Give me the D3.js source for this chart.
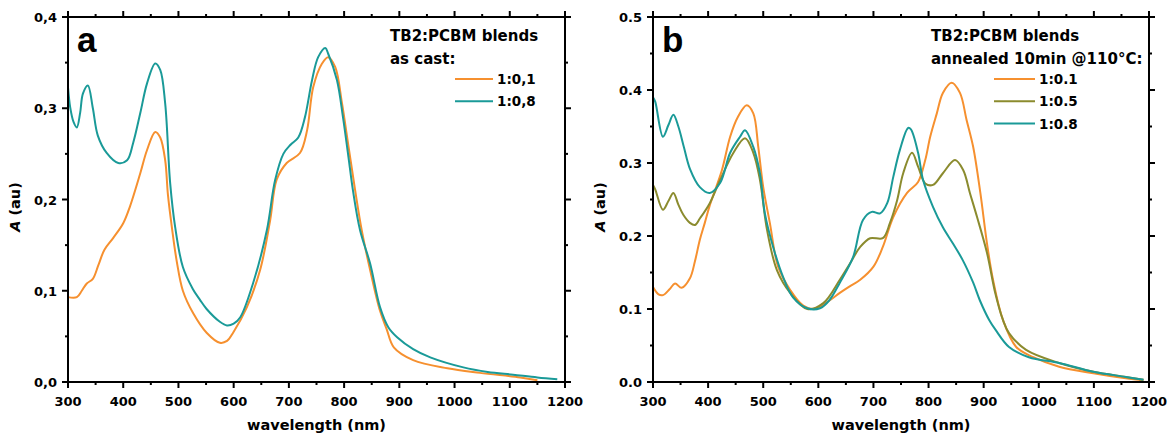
<!DOCTYPE html>
<html><head><meta charset="utf-8">
<script src="https://cdn.jsdelivr.net/npm/d3@7"></script>
<style>
html,body{margin:0;padding:0;background:#fff;}
svg{display:block;}
text{font-family:"DejaVu Sans",sans-serif;font-weight:bold;fill:#000;}
</style></head>
<body><svg id="chart" width="1176" height="439"></svg>
<script>
// ---------- DATA ----------
// wavelength (nm), absorbance (au)
const aCast_1to01 = [[300,0.093],[316,0.093],[325,0.1],[334,0.108],[345,0.113],[355,0.128],[366,0.145],[382,0.158],[400,0.174],[412,0.192],[431,0.229],[443,0.254],[458,0.274],[467,0.268],[476,0.243],[481,0.205],[488,0.17],[497,0.132],[508,0.1],[527,0.075],[551,0.054],[575,0.043],[588,0.045],[599,0.054],[624,0.082],[648,0.123],[666,0.177],[678,0.222],[696,0.24],[720,0.251],[733,0.276],[744,0.323],[760,0.349],[771,0.356],[784,0.345],[796,0.306],[808,0.258],[820,0.21],[832,0.166],[847,0.123],[865,0.078],[877,0.058],[890,0.038],[925,0.024],[987,0.015],[1046,0.01],[1119,0.005],[1150,0.002]];
const aCast_1to08 = [[300,0.323],[304,0.301],[310,0.285],[316,0.279],[322,0.295],[327,0.316],[336,0.325],[345,0.3],[354,0.27],[370,0.251],[391,0.24],[407,0.243],[418,0.262],[431,0.295],[443,0.327],[458,0.349],[467,0.342],[476,0.305],[485,0.218],[494,0.17],[508,0.126],[526,0.102],[539,0.09],[551,0.08],[575,0.066],[588,0.062],[600,0.064],[612,0.071],[635,0.108],[660,0.166],[675,0.221],[690,0.25],[703,0.26],[717,0.268],[729,0.29],[742,0.331],[753,0.356],[766,0.366],[771,0.36],[787,0.331],[798,0.29],[808,0.246],[816,0.21],[829,0.166],[847,0.13],[865,0.082],[880,0.06],[896,0.049],[925,0.036],[956,0.027],[1016,0.016],[1060,0.011],[1106,0.008],[1150,0.005],[1186,0.003]];
const bAnn_1to01 = [[300,0.13],[310,0.12],[318,0.119],[330,0.127],[340,0.135],[352,0.129],[367,0.142],[376,0.165],[385,0.195],[394,0.218],[403,0.242],[425,0.29],[440,0.336],[454,0.363],[470,0.379],[482,0.368],[491,0.322],[500,0.267],[512,0.218],[527,0.158],[549,0.126],[572,0.105],[594,0.1],[621,0.112],[639,0.122],[657,0.131],[676,0.14],[700,0.158],[717,0.185],[736,0.226],[761,0.259],[781,0.274],[794,0.304],[803,0.336],[815,0.368],[826,0.396],[842,0.41],[857,0.396],[869,0.359],[881,0.322],[894,0.259],[906,0.19],[917,0.14],[935,0.085],[959,0.048],[990,0.034],[1037,0.021],[1099,0.012],[1158,0.005],[1190,0.002]];
const bAnn_1to05 = [[300,0.27],[304,0.264],[318,0.236],[328,0.248],[337,0.259],[346,0.243],[355,0.229],[367,0.218],[376,0.215],[385,0.224],[403,0.245],[422,0.277],[446,0.314],[467,0.334],[482,0.314],[494,0.277],[507,0.208],[525,0.153],[549,0.122],[580,0.1],[609,0.108],[639,0.14],[658,0.163],[676,0.185],[694,0.197],[717,0.197],[730,0.218],[743,0.249],[754,0.286],[770,0.314],[781,0.295],[794,0.272],[808,0.27],[826,0.286],[848,0.304],[863,0.29],[875,0.259],[888,0.226],[906,0.177],[921,0.122],[935,0.085],[946,0.067],[977,0.044],[1037,0.026],[1099,0.014],[1158,0.007],[1190,0.003]];
const bAnn_1to08 = [[300,0.39],[304,0.384],[318,0.336],[328,0.352],[337,0.366],[346,0.35],[356,0.322],[367,0.292],[385,0.267],[403,0.259],[422,0.273],[440,0.314],[458,0.336],[467,0.345],[482,0.322],[494,0.286],[503,0.231],[518,0.185],[536,0.144],[554,0.116],[580,0.101],[603,0.101],[620,0.112],[639,0.136],[663,0.171],[681,0.222],[697,0.233],[712,0.231],[725,0.245],[736,0.281],[748,0.318],[763,0.348],[768,0.346],[781,0.314],[790,0.277],[808,0.24],[826,0.212],[844,0.19],[862,0.167],[881,0.136],[893,0.112],[910,0.085],[922,0.071],[946,0.048],[982,0.034],[1037,0.026],[1099,0.014],[1158,0.007],[1190,0.003]];

const xTicks = [300,400,500,600,700,800,900,1000,1100,1200];
const aYTicks = [0,0.1,0.2,0.3,0.4];
const bYTicks = [0,0.1,0.2,0.3,0.4,0.5];
const aYLabels = ["0,0","0,1","0,2","0,3","0,4"];
const bYLabels = ["0.0","0.1","0.2","0.3","0.4","0.5"];
const aSeriesNames = ["1:0,1","1:0,8"];
const bSeriesNames = ["1:0.1","1:0.5","1:0.8"];
const aLegendTitle = ["TB2:PCBM blends","as cast:"];
const bLegendTitle = ["TB2:PCBM blends","annealed 10min @110°C:"];
const xTitle = "wavelength (nm)";

const ORANGE="#f6902f", TEAL="#1a9a98", OLIVE="#8b8b2e";

const svg = d3.select("#chart");

function panel(cfg){
  const g = svg.append("g");
  const x = d3.scaleLinear().domain([300,1200]).range([cfg.left,cfg.right]);
  const y = d3.scaleLinear().domain([0,cfg.yMax]).range([cfg.bottom,cfg.top]);
  const minorX = d3.range(350,1200,100);
  const minorY = d3.range(0.05,cfg.yMax,0.1);
  const MAJ=6, MIN=3, SW=2;

  const line = d3.line().x(d=>x(d[0])).y(d=>y(d[1])).curve(d3.curveCatmullRom.alpha(0.5));
  cfg.series.forEach(s=>{
    g.append("path").attr("d",line(s.data)).attr("fill","none")
      .attr("stroke",s.color).attr("stroke-width",2);
  });

  g.append("rect").attr("x",cfg.left).attr("y",cfg.top)
    .attr("width",cfg.right-cfg.left).attr("height",cfg.bottom-cfg.top)
    .attr("fill","none").attr("stroke","#000").attr("stroke-width",SW);

  const tk = (x1,y1,x2,y2)=>g.append("line").attr("x1",x1).attr("y1",y1).attr("x2",x2).attr("y2",y2)
      .attr("stroke","#000").attr("stroke-width",SW);
  xTicks.forEach(v=>{ tk(x(v),cfg.bottom,x(v),cfg.bottom+MAJ); tk(x(v),cfg.top,x(v),cfg.top-MAJ); });
  minorX.forEach(v=>{ tk(x(v),cfg.bottom,x(v),cfg.bottom+MIN); tk(x(v),cfg.top,x(v),cfg.top-MIN); });
  cfg.yTicks.forEach(v=>{ tk(cfg.left,y(v),cfg.left-MAJ,y(v)); tk(cfg.right,y(v),cfg.right+MAJ,y(v)); });
  minorY.forEach(v=>{ tk(cfg.left,y(v),cfg.left-MIN,y(v)); tk(cfg.right,y(v),cfg.right+MIN,y(v)); });

  xTicks.forEach(v=>{
    g.append("text").attr("x",x(v)).attr("y",cfg.bottom+24).attr("text-anchor","middle")
      .style("font-size","13px").text(v);
  });
  cfg.yTicks.forEach((v,i)=>{
    g.append("text").attr("x",cfg.left-11).attr("y",y(v)+5).attr("text-anchor","end")
      .style("font-size","13px").text(cfg.yLabels[i]);
  });

  g.append("text").attr("x",(cfg.left+cfg.right)/2).attr("y",430).attr("text-anchor","middle")
    .style("font-size","14.5px").text(xTitle);
  const yt = g.append("text").attr("transform",`translate(${cfg.left-48},207) rotate(-90)`)
    .attr("text-anchor","middle").style("font-size","14.5px");
  yt.append("tspan").style("font-style","italic").text("A");
  yt.append("tspan").text(" (au)");

  g.append("text").attr("x",cfg.left+9).attr("y",cfg.top+35)
    .style("font-family","'Liberation Sans',Arial,sans-serif").style("font-size","35px").text(cfg.letter);

  cfg.legTitle.forEach((t,i)=>{
    g.append("text").attr("x",cfg.legX).attr("y",41+i*23).style("font-size","15px").text(t);
  });
  cfg.series.forEach((s,i)=>{
    const ly = 79+i*22.3;
    g.append("line").attr("x1",cfg.legLine[0]).attr("x2",cfg.legLine[1]).attr("y1",ly).attr("y2",ly)
      .attr("stroke",s.color).attr("stroke-width",2);
    g.append("text").attr("x",cfg.legLine[1]+4).attr("y",ly+5).style("font-size","13.5px").text(s.name);
  });
}

panel({letter:"a",left:68,right:565,top:17,bottom:382,yMax:0.4,yTicks:aYTicks,yLabels:aYLabels,
  legTitle:aLegendTitle,legX:390,legLine:[455,493],
  series:[{name:aSeriesNames[0],data:aCast_1to01,color:ORANGE},{name:aSeriesNames[1],data:aCast_1to08,color:TEAL}]});
panel({letter:"b",left:653,right:1149,top:17,bottom:382,yMax:0.5,yTicks:bYTicks,yLabels:bYLabels,
  legTitle:bLegendTitle,legX:931,legLine:[994,1035],
  series:[{name:bSeriesNames[0],data:bAnn_1to01,color:ORANGE},{name:bSeriesNames[1],data:bAnn_1to05,color:OLIVE},{name:bSeriesNames[2],data:bAnn_1to08,color:TEAL}]});
</script></body></html>
